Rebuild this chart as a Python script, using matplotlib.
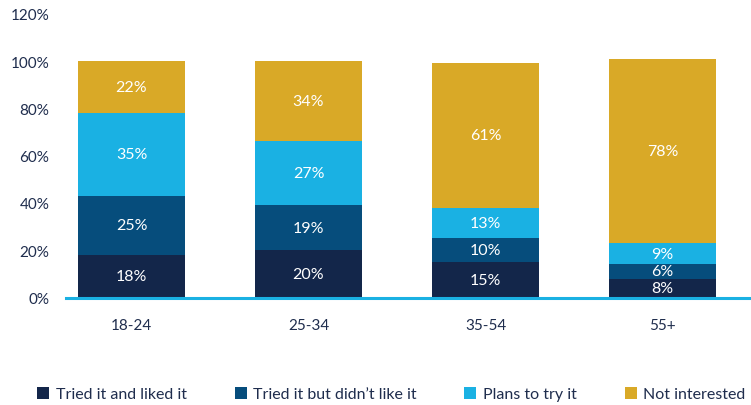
import numpy as np
import matplotlib
matplotlib.use("Agg")
import matplotlib.pyplot as plt

plt.rcParams['font.family'] = ['Lato', 'DejaVu Sans']

groups = ['18-24', '25-34', '35-54', '55+']
series = ['Tried it and liked it', "Tried it but didn\u2019t like it", 'Plans to try it', 'Not interested']
liked = [18, 20, 15, 8]
disliked = [25, 19, 10, 6]
plans = [35, 27, 13, 9]
not_int = [22, 34, 61, 78]
colors = ['#13264a', '#064d7c', '#1ab1e3', '#d9a927']
yticks = [0, 20, 40, 60, 80, 100, 120]

fig = plt.figure(figsize=(7.51, 4.06), dpi=100)
ax = fig.add_axes([66/751, 107.5/406, 1 - 66/751, (298.5 - 14.7)/406])

x = np.arange(len(groups))
bottom = np.zeros(len(groups))
handles = []
for vals, name, col in zip([liked, disliked, plans, not_int], series, colors):
    b = ax.bar(x, vals, width=0.6, bottom=bottom, color=col, label=name, zorder=2)
    handles.append(b)
    for xi, v, b0 in zip(x, vals, bottom):
        ax.text(xi, b0 + v / 2, f'{v}%', ha='center', va='center',
                color='white', fontsize=11.5)
    bottom += np.array(vals)

ax.set_xlim(-0.37, 3.5)
ax.set_ylim(0, 120)
ax.set_yticks(yticks)
ax.set_yticklabels([f'{t}%' for t in yticks])
ax.set_xticks(x)
ax.set_xticklabels(groups)
for s in ['top', 'right', 'left']:
    ax.spines[s].set_visible(False)
ax.spines['bottom'].set_color('#1ab1e3')
ax.spines['bottom'].set_linewidth(2.2)
ax.tick_params(axis='both', length=0, colors='#1f2d4d', labelsize=11)
ax.tick_params(axis='x', pad=15)
ax.tick_params(axis='y', pad=12)

fig.legend(handles=handles, labels=series, loc='center', bbox_to_anchor=(0.521, 0.027),
           ncol=4, frameon=False, fontsize=11.5, handlelength=0.75, handleheight=0.85,
           handletextpad=0.4, columnspacing=3.0, labelcolor='#1f2d4d')

fig.savefig('out.png', dpi=100)
